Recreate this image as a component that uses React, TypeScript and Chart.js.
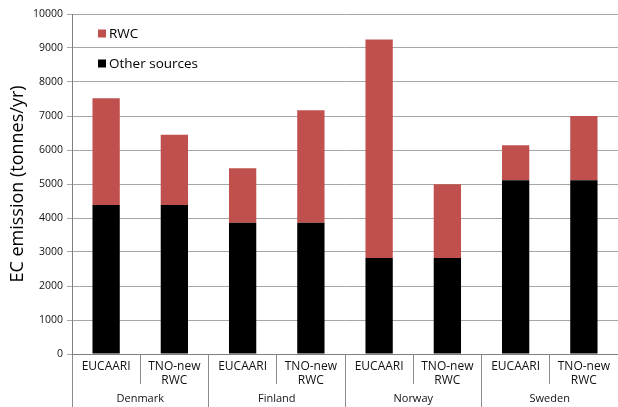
import React, { useEffect, useRef } from "react";
import { Chart, registerables } from "chart.js";

Chart.register(...registerables);

const countries = ["Denmark", "Finland", "Norway", "Sweden"];
const inventories: (string | string[])[] = [
  "EUCAARI", ["TNO-new", "RWC"],
  "EUCAARI", ["TNO-new", "RWC"],
  "EUCAARI", ["TNO-new", "RWC"],
  "EUCAARI", ["TNO-new", "RWC"],
];
const otherSources = [4380, 4380, 3860, 3860, 2820, 2820, 5110, 5110];
const rwc = [3140, 2070, 1600, 3310, 6430, 2170, 1030, 1890];
const yTicks = [0, 1000, 2000, 3000, 4000, 5000, 6000, 7000, 8000, 9000, 10000];

const FONT = "'Open Sans', 'DejaVu Sans', sans-serif";

const legendPlugin = {
  id: "insideLegend",
  afterDraw(chart: any) {
    const { ctx, chartArea } = chart;
    const ds = [...chart.data.datasets].reverse();
    ctx.save();
    ds.forEach((d: any, i: number) => {
      const x = chartArea.left + 26;
      const cy = chartArea.top + 19.5 + i * 30;
      ctx.fillStyle = d.backgroundColor;
      ctx.fillRect(x, cy - 4, 8, 8);
      ctx.fillStyle = "#000";
      ctx.font = `13.5px ${FONT}`;
      ctx.textBaseline = "middle";
      ctx.textAlign = "left";
      ctx.fillText(d.label, x + 11, cy + 1);
    });
    ctx.restore();
  },
};

export default function App() {
  const ref = useRef<HTMLCanvasElement>(null);
  useEffect(() => {
    if (!ref.current) return;
    const chart = new Chart(ref.current, {
      type: "bar",
      data: {
        labels: inventories as any,
        datasets: [
          {
            label: "Other sources",
            data: otherSources,
            backgroundColor: "#000000",
            categoryPercentage: 1,
            barPercentage: 0.4,
          },
          {
            label: "RWC",
            data: rwc,
            backgroundColor: "#c0504d",
            categoryPercentage: 1,
            barPercentage: 0.4,
          },
        ],
      },
      options: {
        animation: false,
        responsive: true,
        maintainAspectRatio: false,
        layout: { padding: { top: 14, right: 0, bottom: 0, left: 0 } },
        plugins: { legend: { display: false }, tooltip: { enabled: false } },
        scales: {
          x: {
            type: "category",
            stacked: true,
            weight: 0,
            grid: { offset: true, drawOnChartArea: false, tickLength: 30, color: "#8c8c8c" },
            border: { color: "#7f7f7f" },
            ticks: { font: { family: FONT, size: 12 }, color: "#111", padding: -25, maxRotation: 0, autoSkip: false },
            afterFit: (s: any) => { s.height = 30; },
          },
          x2: {
            type: "category",
            labels: countries,
            position: "bottom",
            weight: 1,
            grid: { offset: true, drawOnChartArea: false, tickLength: 23, color: "#8c8c8c" },
            border: { display: false },
            ticks: { font: { family: FONT, size: 11 }, color: "#111", padding: -15, maxRotation: 0, autoSkip: false },
            afterFit: (s: any) => { s.height = 23; },
          },
          y: {
            stacked: true,
            min: 0,
            max: 10000,
            afterBuildTicks: (s: any) => { s.ticks = yTicks.map((v) => ({ value: v })); },
            grid: { color: "#a6a6a6", tickLength: 5 },
            border: { color: "#7f7f7f" },
            ticks: {
              font: { family: FONT, size: 10.5 },
              color: "#111",
              padding: 4,
              callback: (v: any) => String(v),
            },
            title: {
              display: true,
              text: "EC emission (tonnes/yr)",
              font: { family: FONT, size: 18 },
              color: "#000",
              padding: { top: 7, bottom: 0 },
            },
            afterFit: (s: any) => { s.width = 72; },
          },
        },
      },
      plugins: [legendPlugin],
    });
    return () => chart.destroy();
  }, []);
  return (
    <div style={{ position: "fixed", left: 0, top: 0, width: 618, height: 407, background: "#fff" }}>
      <canvas ref={ref} />
    </div>
  );
}
